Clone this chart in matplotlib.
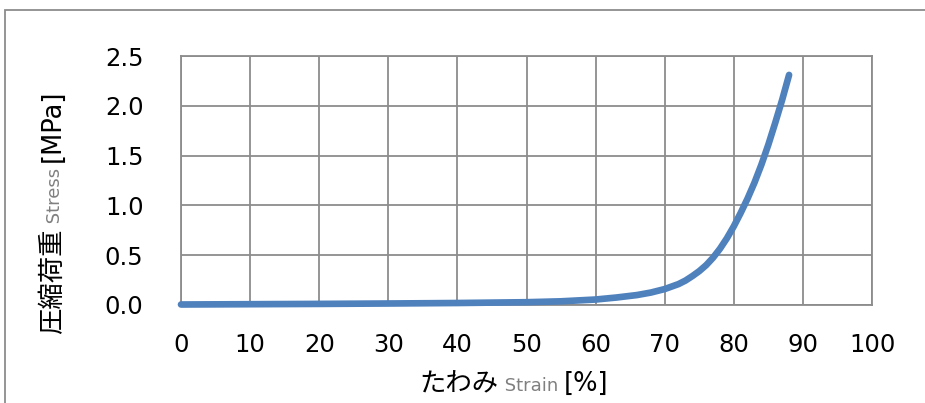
import matplotlib
matplotlib.use("Agg")
import matplotlib.pyplot as plt
from matplotlib.patches import Rectangle

strain = [0, 10, 20, 30, 40, 50, 55, 60, 63, 66, 68, 70, 71, 72, 73, 74, 75, 76, 77, 78, 79,
          80, 81, 82, 83, 84, 85, 86, 87, 88]
stress = [0.005, 0.008, 0.011, 0.015, 0.02, 0.028, 0.037, 0.055, 0.075, 0.1, 0.125, 0.16, 0.185,
          0.21, 0.245, 0.29, 0.34, 0.40, 0.475, 0.565, 0.67, 0.79, 0.925, 1.07, 1.23, 1.41, 1.61,
          1.83, 2.06, 2.31]
xticks = [0, 10, 20, 30, 40, 50, 60, 70, 80, 90, 100]
yticks = [0.0, 0.5, 1.0, 1.5, 2.0, 2.5]
ytick_labels = ["0.0", "0.5", "1.0", "1.5", "2.0", "2.5"]

W, H = 925, 403
fig = plt.figure(figsize=(W / 100, H / 100), dpi=100)
fam = ['DejaVu Sans']
jfam = ['Noto Sans CJK JP', 'DejaVu Sans']

# outer chart border
fig.patches.append(Rectangle((5 / W, -0.1), 1.2, (H - 10) / H + 0.1, transform=fig.transFigure,
                             fill=False, edgecolor='#8c8c8c', linewidth=1.3))

ax = fig.add_axes([181 / W, 1 - 305 / H, (872 - 181) / W, (305 - 56) / H])
ax.plot(strain, stress, color='#4F81BD', linewidth=4.8, solid_capstyle='round',
        solid_joinstyle='round', zorder=3, clip_on=False)
ax.set_xlim(0, 100)
ax.set_ylim(0, 2.5)
ax.set_xticks(xticks)
ax.set_yticks(yticks)
ax.set_yticklabels(ytick_labels)
ax.grid(True, color='#8c8c8c', linewidth=1.3)
ax.set_axisbelow(True)
for s in ax.spines.values():
    s.set_color('#8c8c8c')
    s.set_linewidth(1.3)
ax.tick_params(length=0, labelsize=17.5, colors='black')
ax.tick_params(axis='y', pad=27)
ax.tick_params(axis='x', pad=20)
for lab in ax.get_xticklabels() + ax.get_yticklabels():
    lab.set_family(fam)

fig.canvas.draw()
r = fig.canvas.get_renderer()

# x label pieces
pieces_x = [("たわみ", 19, 'black', jfam), (" Strain ", 13, '#808080', fam), ("[%]", 18.5, 'black', fam)]
texts = []
for s, sz, c, f in pieces_x:
    t = fig.text(0, 0, s, fontsize=sz, color=c, family=f, va='baseline', ha='left')
    texts.append(t)
widths = [t.get_window_extent(r).width for t in texts]
total = sum(widths)
x0 = 514 - total / 2
base_y = H - 391
for t, w in zip(texts, widths):
    t.set_position((x0 / W, base_y / H))
    x0 += w

# y label pieces (rotated)
pieces_y = [("圧縮荷重", 19, 'black', jfam), (" Stress ", 13, '#808080', fam), ("[MPa]", 18.5, 'black', fam)]
texts = []
for s, sz, c, f in pieces_y:
    t = fig.text(0, 0, s, fontsize=sz, color=c, family=f, rotation=90,
                 rotation_mode='anchor', va='baseline', ha='left')
    texts.append(t)
heights = [t.get_window_extent(r).height for t in texts]
total = sum(heights)
y0 = (H - 212) - total / 2
base_x = 60
for t, h in zip(texts, heights):
    t.set_position((base_x / W, y0 / H))
    y0 += h

fig.savefig("out.png", dpi=100)
